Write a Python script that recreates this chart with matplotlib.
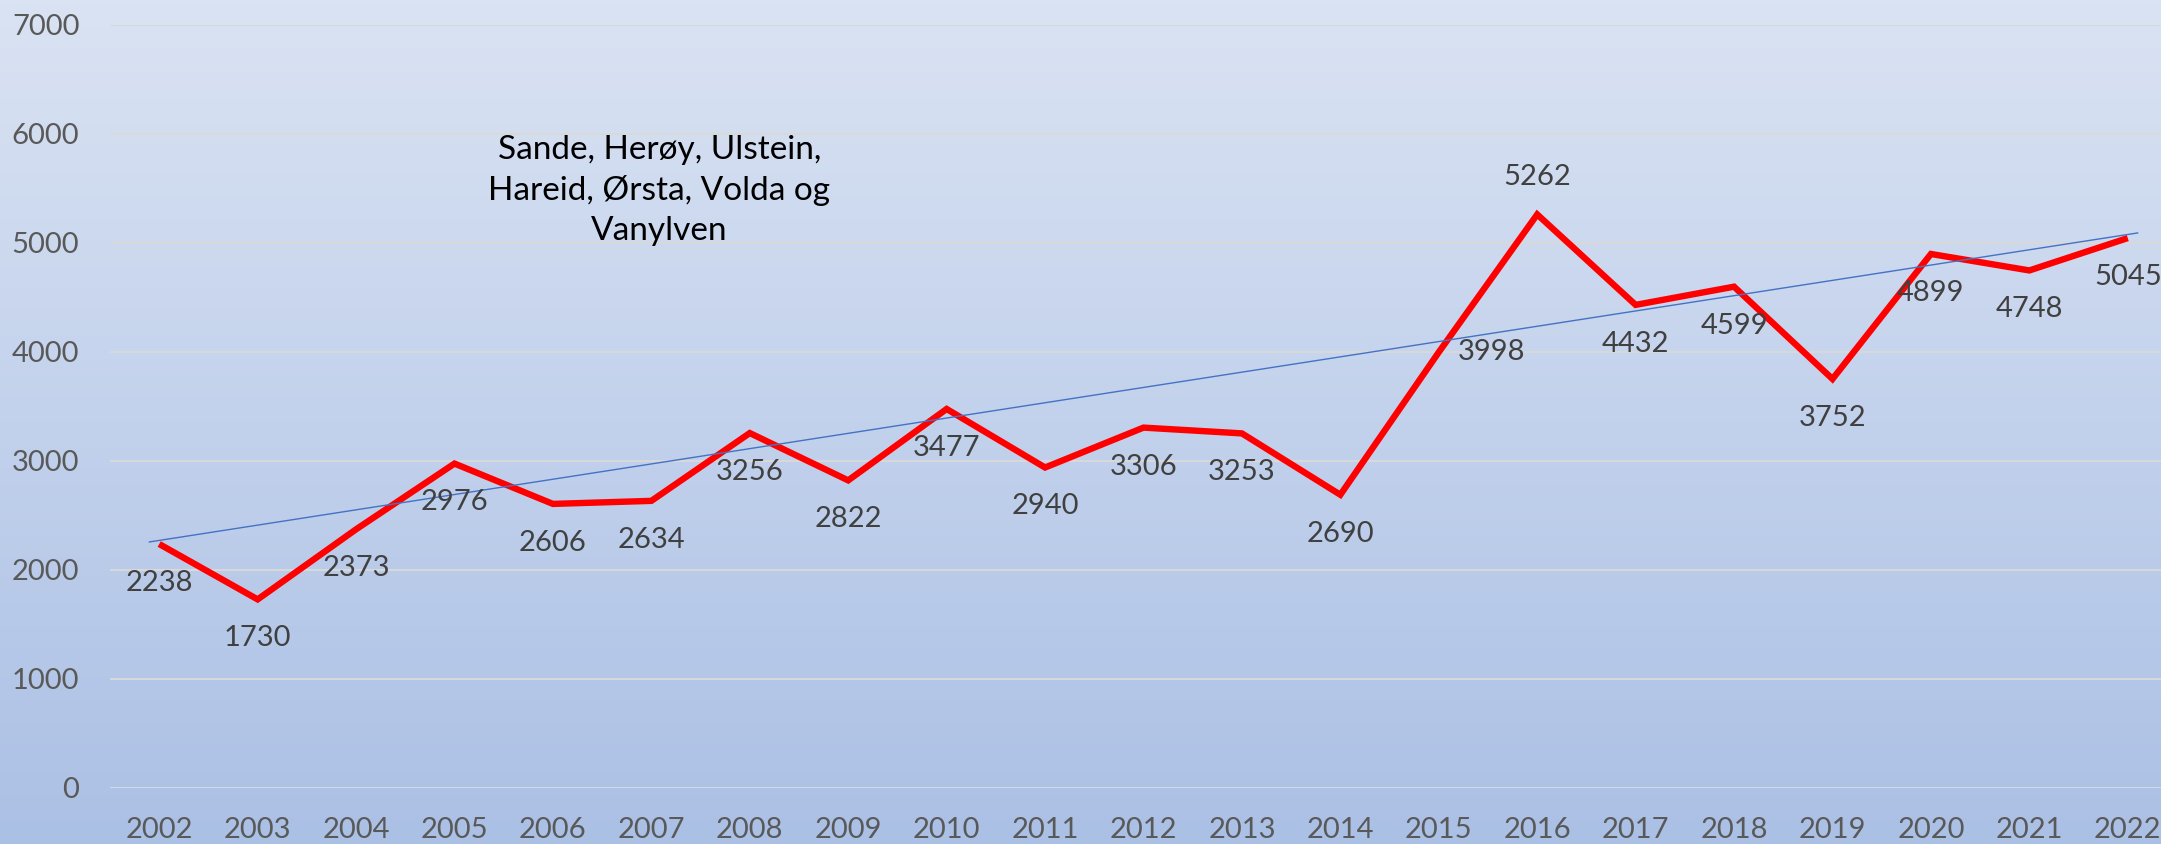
import numpy as np
import matplotlib
matplotlib.use("Agg")
import matplotlib.pyplot as plt

# data
years = [str(y) for y in range(2002, 2023)]
values = [2238, 1730, 2373, 2976, 2606, 2634, 3256, 2822, 3477, 2940, 3306,
          3253, 2690, 3998, 5262, 4432, 4599, 3752, 4899, 4748, 5045]
# trendline end values (drawn 0.1 period past first/last point)
trend_vals = [2257, 5092]
note = "Sande, Herøy, Ulstein,\nHareid, Ørsta, Volda og\nVanylven"

# where each data label sits relative to its point
label_side = ["below"] * len(values)
label_side[years.index("2015")] = "right"
label_side[years.index("2016")] = "above"

plt.rcParams["font.family"] = ["Lato", "DejaVu Sans"]

fig = plt.figure(figsize=(21.61, 8.44), dpi=100)

# gradient background
bg = fig.add_axes([0, 0, 1, 1], zorder=-1)
top = np.array([218, 227, 243]) / 255
bot = np.array([171, 192, 229]) / 255
t = np.linspace(0, 1, 256)[:, None, None]
grad = top * (1 - t) + bot * t
grad = np.repeat(grad, 2, axis=1)
bg.imshow(grad, aspect="auto", extent=[0, 1, 0, 1])
bg.axis("off")

ax = fig.add_axes([0.0509, 0.0664, 0.9565, 0.904])
ax.set_facecolor("none")
x = np.arange(len(years))

ax.plot(x, values, color="#ff0000", lw=4.6, solid_joinstyle="miter",
        solid_capstyle="butt", zorder=3)
ax.plot([x[0] - 0.1, x[-1] + 0.1], trend_vals, color="#4472c4", lw=1.0, zorder=4)

for xi, v, side in zip(x, values, label_side):
    if side == "below":
        off = (0, -28)
    elif side == "above":
        off = (0, 27)
    else:
        off = (38, 0)
    ax.annotate(str(v), (xi, v), xytext=off, textcoords="offset points",
                ha="center", va="center", fontsize=21, color="#404040", zorder=5)

ax.text(5.08, 5480, note, ha="center", va="center", multialignment="center",
        fontsize=24, color="black", linespacing=1.4)

ax.set_xlim(-0.5, len(years) - 0.5)
ax.set_ylim(0, 7000)
ax.set_yticks(range(0, 7001, 1000))
ax.set_xticks(x)
ax.set_xticklabels(years)
ax.grid(axis="y", color="#d9d9d9", lw=1.4)
ax.set_axisbelow(True)
for s in ax.spines.values():
    s.set_visible(False)
ax.tick_params(length=0, labelsize=21, colors="#595959")
ax.tick_params(axis="y", pad=22)
ax.tick_params(axis="x", pad=21)

fig.savefig("out.png", dpi=100)
